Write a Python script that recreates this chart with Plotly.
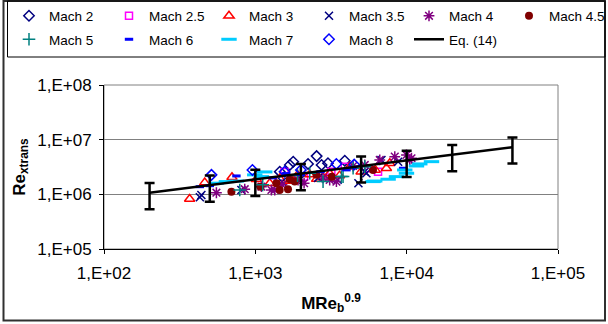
import plotly.graph_objects as go

# ---- data ----
m2_x = [1450, 1690, 1780, 2230, 2540, 2740, 3020, 3900]
m2_y = [2.60e6, 3.45e6, 3.96e6, 3.60e6, 5.0e6, 3.45e6, 3.70e6, 4.13e6]
m25_x = [1560, 2100, 3180, 3900, 5600, 6470]
m25_y = [2.55e6, 2.1e6, 2.60e6, 3.21e6, 3.0e6, 2.60e6]
m3_x = [368, 463, 701, 1016, 1245, 1450, 1700, 1900, 2290, 2540, 2800, 3100, 3600, 4210, 5000, 6200, 7350, 7735]
m3_y = [0.82e6, 1.64e6, 2.05e6, 1.89e6, 1.60e6, 1.95e6, 1.75e6, 2.25e6, 2.3e6, 1.9e6, 2.05e6, 2.4e6, 2.2e6, 3.2e6, 2.6e6, 2.8e6, 3.0e6, 3.7e6]
m35_x = [430, 440, 809, 1500, 2000, 2600, 3500, 4800, 5285, 5420, 6815, 8780]
m35_y = [0.885e6, 0.97e6, 1.20e6, 1.7e6, 1.9e6, 2.0e6, 1.85e6, 1.6e6, 2.6e6, 2.43e6, 4.26e6, 3.96e6]
m4_x = [553, 851, 1097, 1277, 1343, 1500, 1916, 2100, 2800, 3100, 3434, 4426, 5285, 6641, 8345, 9970, 10480, 10760]
m4_y = [1.07e6, 1.24e6, 1.38e6, 1.20e6, 1.20e6, 1.5e6, 1.83e6, 1.6e6, 2.0e6, 1.83e6, 1.71e6, 3.3e6, 3.45e6, 4.26e6, 4.89e6, 5.25e6, 4.26e6, 4.57e6]
m45_x = [695, 1081, 1377, 1449, 1644, 1687, 1821, 2535, 3200, 5995]
m45_y = [1.12e6, 1.38e6, 1.60e6, 1.20e6, 1.24e6, 1.89e6, 1.71e6, 2.27e6, 2.1e6, 2.79e6]
m5_x = [789, 1119, 1900, 2289, 2802, 3706, 3800, 4426, 5285]
m5_y = [1.20e6, 1.49e6, 2.2e6, 2.43e6, 1.71e6, 2.11e6, 2.11e6, 3.0e6, 3.21e6]
m6_x = [430, 500, 750, 1300, 1600, 2000, 2700, 4000, 9470]
m6_y = [1.38e6, 1.44e6, 2.17e6, 2.0e6, 2.4e6, 2.3e6, 2.6e6, 2.8e6, 3.0e6]
m7_x = [553, 644, 750, 991, 1097, 1154, 5995, 6150, 7541, 8565, 9713, 9970, 11610, 12210, 14590]
m7_y = [1.60e6, 1.71e6, 1.75e6, 2.27e6, 2.11e6, 2.57e6, 1.71e6, 1.75e6, 1.89e6, 2.11e6, 2.79e6, 2.43e6, 3.3e6, 3.60e6, 3.96e6]
m8_x = [513, 957, 1560, 2000, 3430, 4500]
m8_y = [2.27e6, 2.79e6, 2.60e6, 2.8e6, 3.6e6, 3.5e6]
eq_x = [200, 500, 1000, 2000, 5000, 10000, 20000, 50000]
eq_y = [1.07e6, 1.47e6, 1.87e6, 2.38e6, 3.28e6, 4.17e6, 5.31e6, 7.3e6]

x_ticks = [1e2, 1e3, 1e4, 1e5]
x_labels = ["1,E+02", "1,E+03", "1,E+04", "1,E+05"]
y_ticks = [1e5, 1e6, 1e7, 1e8]
y_labels = ["1,E+05", "1,E+06", "1,E+07", "1,E+08"]

FONT = "Liberation Sans, Arial, sans-serif"

fig = go.Figure()

def add(name, xs, ys, symbol, color, size, lw, legend):
    fig.add_trace(go.Scatter(
        x=xs, y=ys, mode="markers", name=name, legend=legend,
        marker=dict(symbol=symbol, size=size, color=color,
                    line=dict(color=color, width=lw)),
    ))

add("Mach 2", m2_x, m2_y, "diamond-open", "#000080", 8, 1.5, "legend")
add("Mach 2.5", m25_x, m25_y, "square-open", "#FF00FF", 7, 1.5, "legend")
add("Mach 3", m3_x, m3_y, "triangle-up-open", "#FF0000", 9, 1.5, "legend")
add("Mach 3.5", m35_x, m35_y, "x-thin-open", "#000080", 8, 1.5, "legend2")
add("Mach 4", m4_x, m4_y, "asterisk-open", "#800080", 9, 1.5, "legend2")
add("Mach 4.5", m45_x, m45_y, "circle", "#800000", 8, 0, "legend2")
add("Mach 5", m5_x, m5_y, "cross-thin-open", "#008080", 9, 1.5, "legend3")
add("Mach 6", m6_x, m6_y, "line-ew-open", "#0000FF", 6, 3, "legend3")
add("Mach 7", m7_x, m7_y, "line-ew-open", "#00CCFF", 11, 3, "legend3")
add("Mach 8", m8_x, m8_y, "diamond-open", "#0000FF", 8, 1.5, "legend4")

fig.add_trace(go.Scatter(
    x=eq_x, y=eq_y, mode="lines", name="Eq. (14)", legend="legend4",
    line=dict(color="black", width=2.5),
    error_y=dict(type="percent", value=50, color="black", thickness=2.5, width=5),
))

L, R, T, B = 104, 50, 85, 75
W, H = 608, 324
pw, ph = W - L - R, H - T - B

def px(xp):
    return (xp - L) / pw

def py(yp):
    return (H - B - yp) / ph

shapes = [
    dict(type="rect", xref="paper", yref="paper", x0=0, x1=1, y0=0, y1=1,
         line=dict(color="#808080", width=1), layer="below"),
    dict(type="rect", xref="paper", yref="paper", x0=px(3.5), x1=px(605), y0=py(1), y1=py(320.5),
         line=dict(color="#303030", width=2)),
    dict(type="rect", xref="paper", yref="paper", x0=px(7.5), x1=px(605), y0=py(1), y1=py(57),
         line=dict(color="black", width=1)),
]

legend_common = dict(
    orientation="h", xref="paper", yref="paper", xanchor="left", yanchor="top",
    entrywidth=55, entrywidthmode="pixels", bgcolor="rgba(0,0,0,0)", borderwidth=0,
    font=dict(family=FONT, size=13.5, color="black"),
)

ROW1, ROW2 = 0.5, 24

fig.update_layout(
    width=W, height=H,
    margin=dict(l=L, r=R, t=T, b=B, autoexpand=False),
    paper_bgcolor="white", plot_bgcolor="white",
    font=dict(family=FONT, color="black"),
    showlegend=True,
    legend=dict(x=px(9), y=py(ROW1), **legend_common),
    legend2=dict(x=px(309), y=py(ROW1), **legend_common),
    legend3=dict(x=px(9), y=py(ROW2), **legend_common),
    legend4=dict(x=px(309), y=py(ROW2), **legend_common),
    shapes=shapes,
    xaxis=dict(
        type="log", range=[2, 5], tickvals=x_ticks, ticktext=x_labels,
        showgrid=False, zeroline=False, showline=True, linecolor="black", linewidth=1,
        ticks="outside", ticklen=4, tickcolor="black", ticklabelstandoff=5,
        tickfont=dict(family=FONT, size=17, color="black"),
        title=dict(text="<b>MRe<sub>b</sub><sup>0.9</sup></b>", standoff=14,
                   font=dict(family=FONT, size=17, color="black")),
        automargin=False,
    ),
    yaxis=dict(
        type="log", range=[5, 8], tickvals=y_ticks, ticktext=y_labels,
        showgrid=True, gridcolor="#808080", gridwidth=1, zeroline=False,
        showline=True, linecolor="black", linewidth=1,
        ticks="outside", ticklen=4, tickcolor="black", ticklabelstandoff=4,
        tickfont=dict(family=FONT, size=17, color="black"),
        title=dict(text="<b>Re<sub>xtrans</sub></b>", standoff=7,
                   font=dict(family=FONT, size=17, color="black")),
        automargin=False,
    ),
)

fig.write_html("out.html")
